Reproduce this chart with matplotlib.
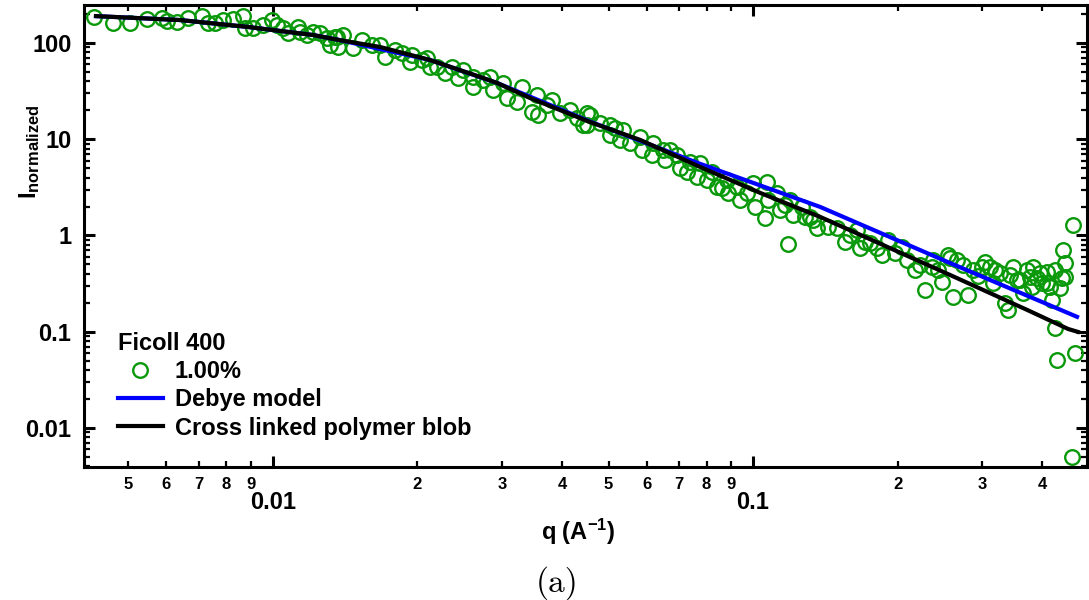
import matplotlib
matplotlib.use('Agg')
import matplotlib.pyplot as plt
from matplotlib.ticker import LogLocator, FuncFormatter, NullFormatter
import numpy as np

# measured SAXS points, Ficoll 400 1.00%
q_data = [0.00424, 0.00464, 0.00504, 0.00546, 0.00587, 0.00601, 0.00631, 0.00665, 0.00711, 0.00732,
          0.00757, 0.00787, 0.00825, 0.00866, 0.00874, 0.00909, 0.00953, 0.00995, 0.01019, 0.01049,
          0.01074, 0.01127, 0.01138, 0.01177, 0.01212, 0.01253, 0.01296, 0.01315, 0.01359, 0.01366,
          0.01346, 0.01399, 0.01468, 0.01532, 0.01608, 0.0167, 0.01711, 0.01795, 0.01856, 0.01929,
          0.01948, 0.02043, 0.02093, 0.02123, 0.02196, 0.02282, 0.0236, 0.02429, 0.02488, 0.0261,
          0.0261, 0.02738, 0.02832, 0.02873, 0.03014, 0.03073, 0.03224, 0.03303, 0.03465, 0.03548,
          0.03565, 0.03723, 0.03814, 0.03962, 0.04157, 0.04298, 0.04423, 0.04509,
          0.04574, 0.04509, 0.04799, 0.05036, 0.05036, 0.05359, 0.05283, 0.05543, 0.05815, 0.05871,
          0.06189, 0.0616, 0.06494, 0.06557, 0.06946, 0.07046, 0.07391, 0.07286, 0.07755, 0.07643,
          0.08019, 0.08214, 0.08414, 0.08826, 0.08869, 0.09261, 0.09395, 0.09716, 0.1, 0.101,
          0.1069, 0.1059, 0.1074, 0.1122, 0.1138, 0.1183, 0.1194, 0.1212, 0.1265, 0.1314,
          0.1283, 0.1334, 0.1359, 0.1432, 0.1496, 0.1555, 0.1593, 0.1647, 0.1671, 0.1711,
          0.1813, 0.1857, 0.1911, 0.1976, 0.2043, 0.2093, 0.2175, 0.2228, 0.2282, 0.2360,
          0.2371, 0.2475, 0.2547, 0.2572, 0.2610, 0.2661, 0.2738, 0.2805, 0.2873, 0.2999,
          0.3043, 0.3117, 0.3162, 0.3193, 0.3270, 0.3350, 0.3398, 0.3481, 0.3548, 0.3600,
          0.3652, 0.3723, 0.3777, 0.3813, 0.3831, 0.3962, 0.4000, 0.4097, 0.4097, 0.4156,
          0.4196, 0.4257, 0.4299, 0.4361, 0.4403, 0.4424, 0.4467, 0.4467, 0.4620, 0.4642,
          0.4687,
          0.0516, 0.0672, 0.0862, 0.1166, 0.1753, 0.2428, 0.2943, 0.3430, 0.3906, 0.4257]
i_data = [187.5, 161, 161, 177, 182, 169, 165, 182, 191, 161,
          161, 173, 177, 191, 143, 143, 154, 173, 154, 143,
          127, 147, 130, 121, 130, 127, 113, 95.3, 115, 90.9,
          115, 121, 88.7, 107.5, 95.3, 95.3, 71.6, 84.6, 78.7, 63.5,
          75.1, 66.6, 69.9, 56.3, 56.3, 48.8, 56.3, 43.3, 52.4, 44.4,
          34.9, 41.3, 44.4, 32.5, 38.4, 26.8, 24.4, 34.9, 19.2, 28.8,
          17.9, 22.7, 25.6, 18.8, 20.2, 16.6, 14.1, 18.8,
          17.9, 14.1, 14.8, 14.1, 11.1, 12.5, 9.83, 9.15, 10.6, 7.74,
          9.15, 6.87, 7.74, 6.10, 6.87, 5.04, 5.81, 4.58, 5.67, 4.06,
          3.78, 4.58, 3.20, 3.78, 2.77, 3.20, 2.34, 2.77, 3.52, 1.98,
          3.60, 1.52, 2.34, 2.77, 1.84, 0.818, 2.34, 1.64, 1.98, 1.56,
          1.56, 1.45, 1.20, 1.23, 1.20, 0.858, 1.01, 1.14, 0.743, 0.858,
          0.743, 0.629, 0.900, 0.660, 0.761, 0.558, 0.439, 0.495, 0.272, 0.472,
          0.558, 0.330, 0.629, 0.585, 0.230, 0.558, 0.495, 0.242, 0.439, 0.472,
          0.532, 0.472, 0.322, 0.439, 0.409, 0.200, 0.169, 0.472, 0.346, 0.346,
          0.253, 0.439, 0.372, 0.292, 0.472, 0.409, 0.322, 0.419, 0.322, 0.292,
          0.214, 0.110, 0.0511, 0.285, 0.363, 0.709, 0.519, 0.372, 0.00502, 1.29,
          0.0604,
          13.1, 7.74, 3.12, 2.08, 0.838, 0.439, 0.381, 0.390, 0.363, 0.439]

# model curves
q_debye = [0.00428, 0.0064, 0.00883, 0.01211, 0.01379, 0.02123, 0.0293, 0.0457, 0.0776, 0.138, 0.257, 0.473]
i_debye = [190, 173, 147, 121, 107, 66.6, 38.4, 15.3, 5.55, 1.98, 0.519, 0.143]

q_blob = [0.00428, 0.0064, 0.00883, 0.01211, 0.01379, 0.01672, 0.02123, 0.0270, 0.0293, 0.0343,
          0.0457, 0.0582, 0.0776, 0.1035, 0.138, 0.257, 0.372, 0.453, 0.475]
i_blob = [190, 173, 147, 121, 107, 90.8, 66.6, 44.4, 38.4, 26.8,
          15.1, 9.84, 5.15, 2.77, 1.56, 0.390, 0.169, 0.107, 0.0997]

plt.rcParams['font.family'] = 'Liberation Sans'
plt.rcParams['font.weight'] = 'bold'
plt.rcParams['mathtext.fontset'] = 'custom'
plt.rcParams['mathtext.rm'] = 'Liberation Sans:bold'
plt.rcParams['mathtext.it'] = 'Liberation Sans:bold'
plt.rcParams['mathtext.bf'] = 'Liberation Sans:bold'
plt.rcParams['mathtext.default'] = 'rm'

fig = plt.figure(figsize=(10.89, 6.0), dpi=100)
ax = fig.add_axes([0.0771, 0.2217, 0.9210, 0.7700])

ax.plot(q_data, i_data, 'o', mfc='none', mec='#0a990a', ms=10.5, mew=1.7, label='1.00%')
ax.plot(q_debye, i_debye, color='#0000ff', lw=3, label='Debye model')
ax.plot(q_blob, i_blob, color='black', lw=3, label='Cross linked polymer blob')

ax.set_xscale('log')
ax.set_yscale('log')
ax.set_xlim(0.00404, 0.496)
ax.set_ylim(0.00394, 248)

ax.xaxis.set_major_locator(LogLocator(base=10))
ax.xaxis.set_minor_locator(LogLocator(base=10, subs=(2, 3, 4, 5, 6, 7, 8, 9)))
ax.yaxis.set_major_locator(LogLocator(base=10))
ax.yaxis.set_minor_locator(LogLocator(base=10, subs=(2, 3, 4, 5, 6, 7, 8, 9)))

def digit(v, pos):
    return '%d' % round(v / 10 ** np.floor(np.log10(v) + 1e-9))

ax.xaxis.set_major_formatter(FuncFormatter(lambda v, p: '%g' % v))
ax.xaxis.set_minor_formatter(FuncFormatter(digit))
ax.yaxis.set_major_formatter(FuncFormatter(lambda v, p: '%g' % v))
ax.yaxis.set_minor_formatter(NullFormatter())

ax.tick_params(which='both', direction='in', top=True, right=True)
ax.tick_params(which='major', length=8, width=2.2)
ax.tick_params(which='minor', length=4.5, width=1.6)
ax.tick_params(axis='x', which='major', pad=17, labelsize=17)
ax.tick_params(axis='x', which='minor', pad=7, labelsize=12)
ax.tick_params(axis='y', which='major', pad=9, labelsize=17)
for s in ax.spines.values():
    s.set_linewidth(2.2)

fig.text(578 / 1089, 1 - 532 / 600, 'q (A$^{-1}$)', ha='center', va='center', fontsize=17)
fig.text(30 / 1089, 1 - 152 / 600, 'I$_{normalized}$', ha='center', va='center', fontsize=17, rotation=90)
fig.text(557 / 1089, 1 - 583 / 600, '(a)', ha='center', va='center', fontsize=24,
         fontfamily='cmr10', fontweight='normal')

ax.legend(loc='upper left', bbox_to_anchor=(118 / 1089, 1 - 332 / 600), bbox_transform=fig.transFigure,
          frameon=False, title='Ficoll 400', title_fontproperties={'weight': 'bold', 'size': 17},
          fontsize=17, alignment='left', handlelength=1.9, handletextpad=0.5, labelspacing=0.22,
          borderpad=0, borderaxespad=0, numpoints=1)

fig.savefig('out.png', dpi=100)
